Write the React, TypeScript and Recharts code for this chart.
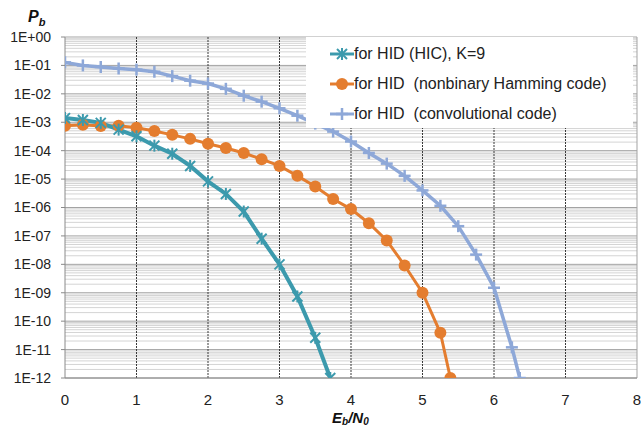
import React from 'react';
import { LineChart, Line, XAxis, YAxis, CartesianGrid, ReferenceLine } from 'recharts';

const hicX = [0, 0.25, 0.5, 0.75, 1, 1.25, 1.5, 1.75, 2, 2.25, 2.5, 2.75, 3, 3.25, 3.5, 3.71];
const hicY = [1.4e-3, 1.2e-3, 9.5e-4, 5.5e-4, 3.2e-4, 1.5e-4, 7.8e-5, 2.9e-5, 8.3e-6, 3e-6, 7.2e-7, 8e-8, 1e-8, 7.4e-10, 2.6e-11, 1e-12];

const hamX = [0, 0.25, 0.5, 0.75, 1, 1.25, 1.5, 1.75, 2, 2.25, 2.5, 2.75, 3, 3.25, 3.5, 3.75, 4, 4.25, 4.5, 4.75, 5, 5.25, 5.39];
const hamY = [7.5e-4, 8.1e-4, 7.4e-4, 7.5e-4, 6.4e-4, 4.9e-4, 3.6e-4, 2.6e-4, 1.75e-4, 1.24e-4, 8.3e-5, 5e-5, 2.9e-5, 1.3e-5, 5.5e-6, 2e-6, 8.8e-7, 2.8e-7, 6.9e-8, 9.1e-9, 1e-9, 3.9e-11, 1e-12];

const convX = [0, 0.25, 0.5, 0.75, 1, 1.25, 1.5, 1.75, 2, 2.25, 2.5, 2.75, 3, 3.25, 3.5, 3.75, 4, 4.25, 4.5, 4.75, 5, 5.25, 5.5, 5.75, 6, 6.25, 6.36];
const convY = [0.128, 0.1, 0.088, 0.078, 0.071, 0.06, 0.042, 0.029, 0.023, 0.015, 0.0086, 0.0053, 0.0031, 0.0017, 9e-4, 4.7e-4, 2.1e-4, 8.3e-5, 3.5e-5, 1.3e-5, 4e-6, 1.15e-6, 2.2e-7, 2.2e-8, 1.5e-9, 1.2e-11, 1e-12];

const xTicks = [0, 1, 2, 3, 4, 5, 6, 7, 8];
const yTicks = [1, 1e-1, 1e-2, 1e-3, 1e-4, 1e-5, 1e-6, 1e-7, 1e-8, 1e-9, 1e-10, 1e-11, 1e-12];
const seriesNames = ['for HID (HIC), K=9', 'for HID  (nonbinary Hamming code)', 'for HID  (convolutional code)'];

const TEAL = '#3C9AAD';
const ORANGE = '#E47D2F';
const BLUE = '#8EA8D8';
const FONT = 'Liberation Sans, Arial, sans-serif';

const zip = (xs: number[], ys: number[]) => xs.map((x, i) => ({ x, y: ys[i] }));
const hicData = zip(hicX, hicY);
const hamData = zip(hamX, hamY);
const convData = zip(convX, convY);

const minorTicks: number[] = [];
for (let k = -12; k < 0; k++) {
  for (let m = 2; m <= 9; m++) minorTicks.push(m * Math.pow(10, k));
}

const fmt = (v: number) => {
  const e = Math.round(Math.log10(v));
  const a = Math.abs(e);
  return '1E' + (e >= 0 ? '+' : '-') + (a < 10 ? '0' + a : '' + a);
};

const StarDot = (p: any) => {
  const { cx, cy } = p;
  if (cx == null || cy == null) return null;
  const s = 5;
  return (
    <g key={p.index} stroke={TEAL} strokeWidth={2}>
      <line x1={cx - s} y1={cy - s} x2={cx + s} y2={cy + s} />
      <line x1={cx - s} y1={cy + s} x2={cx + s} y2={cy - s} />
      <line x1={cx} y1={cy - s - 1} x2={cx} y2={cy + s + 1} />
    </g>
  );
};

const CircleDot = (p: any) => {
  const { cx, cy } = p;
  if (cx == null || cy == null) return null;
  return <circle key={p.index} cx={cx} cy={cy} r={6} fill={ORANGE} />;
};

const PlusDot = (p: any) => {
  const { cx, cy } = p;
  if (cx == null || cy == null) return null;
  const s = 6;
  return (
    <g key={p.index} stroke={BLUE} strokeWidth={2.5}>
      <line x1={cx - s} y1={cy} x2={cx + s} y2={cy} />
      <line x1={cx} y1={cy - s} x2={cx} y2={cy + s} />
    </g>
  );
};

const LegendIcon = ({ i }: { i: number }) => {
  const color = [TEAL, ORANGE, BLUE][i];
  return (
    <svg width={24} height={16} style={{ display: 'block' }}>
      <line x1={0} y1={8} x2={24} y2={8} stroke={color} strokeWidth={3} />
      {i === 0 && (
        <g stroke={TEAL} strokeWidth={2}>
          <line x1={7} y1={3} x2={17} y2={13} />
          <line x1={7} y1={13} x2={17} y2={3} />
          <line x1={12} y1={2} x2={12} y2={14} />
        </g>
      )}
      {i === 1 && <circle cx={12} cy={8} r={6} fill={ORANGE} />}
      {i === 2 && (
        <g stroke={BLUE} strokeWidth={2.5}>
          <line x1={6} y1={8} x2={18} y2={8} />
          <line x1={12} y1={2} x2={12} y2={14} />
        </g>
      )}
    </svg>
  );
};

const LegendBox = () => (
  <div style={{ position: 'absolute', left: 306, top: 37, width: 327, height: 91, background: '#fff', padding: '2px 0 0 24px', boxSizing: 'border-box' }}>
    {seriesNames.map((n, i) => (
      <div key={n} style={{ display: 'flex', alignItems: 'center', height: 30 }}>
        <LegendIcon i={i} />
        <span style={{ whiteSpace: 'pre', fontFamily: FONT, fontSize: 16, color: '#222' }}>{n}</span>
      </div>
    ))}
  </div>
);

const YLabel = () => (
  <text x={28} y={22} fontFamily={FONT} fontWeight="bold" fontStyle="italic" fill="#111">
    <tspan fontSize={16}>P</tspan>
    <tspan fontSize={11} dy={4}>b</tspan>
  </text>
);

const XLabel = () => (
  <text x={332} y={423} fontFamily={FONT} fontWeight="bold" fontStyle="italic" fill="#111">
    <tspan fontSize={15}>E</tspan>
    <tspan fontSize={10} dy={2}>b</tspan>
    <tspan fontSize={15} dy={-2}>/N</tspan>
    <tspan fontSize={10} dy={2}>0</tspan>
  </text>
);

export default function App() {
  return (
    <div style={{ position: 'absolute', left: 0, top: 0, width: 641, height: 428, background: '#fff' }}>
      <LineChart width={641} height={428} margin={{ top: 37, right: 4, bottom: 20, left: 0 }}>
        {minorTicks.map((v) => (
          <ReferenceLine key={'m' + v} y={v} stroke="#d4d4d4" strokeWidth={1} />
        ))}
        <CartesianGrid vertical={false} stroke="#a3a3a3" strokeWidth={1} />
        {xTicks.slice(1, 8).map((v) => (
          <ReferenceLine key={'v' + v} x={v} stroke="#3a3a3a" strokeDasharray="2 1" strokeWidth={1} />
        ))}
        <ReferenceLine x={8} stroke="#a3a3a3" strokeWidth={1} />
        <XAxis
          type="number"
          dataKey="x"
          domain={[0, 8]}
          ticks={xTicks}
          height={30}
          tickSize={0}
          tickMargin={16}
          axisLine={{ stroke: '#8a8a8a' }}
          tick={{ fill: '#222', fontSize: 15, fontFamily: FONT }}
          label={{ content: () => <XLabel /> }}
          allowDataOverflow
        />
        <YAxis
          scale="log"
          domain={[1e-12, 1]}
          ticks={yTicks}
          tickFormatter={fmt}
          width={65}
          tickSize={4}
          tickMargin={10}
          interval={0}
          axisLine={{ stroke: '#8a8a8a' }}
          tickLine={{ stroke: '#8a8a8a' }}
          tick={{ fill: '#222', fontSize: 14, fontFamily: FONT }}
          label={{ content: () => <YLabel /> }}
          allowDataOverflow
        />
        <Line data={convData} dataKey="y" name={seriesNames[2]} stroke={BLUE} strokeWidth={3.5} dot={PlusDot} isAnimationActive={false} />
        <Line data={hamData} dataKey="y" name={seriesNames[1]} stroke={ORANGE} strokeWidth={3} dot={CircleDot} isAnimationActive={false} />
        <Line data={hicData} dataKey="y" name={seriesNames[0]} stroke={TEAL} strokeWidth={4} dot={StarDot} isAnimationActive={false} />
      </LineChart>
      <LegendBox />
    </div>
  );
}
